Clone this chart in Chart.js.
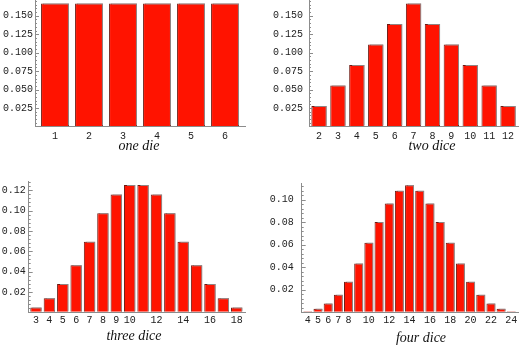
<!DOCTYPE html>
<html>
<head>
<meta charset="utf-8">
<script src="https://cdn.jsdelivr.net/npm/chart.js@4"></script>
<style>
  html, body { margin: 0; padding: 0; background: #fff; }
  #wrap { position: relative; width: 519px; height: 346px; overflow: hidden; }
  canvas { position: absolute; }
  .cap { position: absolute; font: italic 14px 'Liberation Serif', 'DejaVu Serif', serif; line-height: 14px; color: #111; white-space: nowrap; transform: translateX(-50%); }
</style>
</head>
<body>
<div id="wrap">
  <canvas id="c1" width="260" height="173" style="left:0;top:0"></canvas>
  <canvas id="c2" width="259" height="173" style="left:260px;top:0"></canvas>
  <canvas id="c3" width="260" height="173" style="left:0;top:173px"></canvas>
  <canvas id="c4" width="259" height="173" style="left:260px;top:173px"></canvas>
  <div class="cap" style="left:139px;top:139px">one die</div>
  <div class="cap" style="left:432px;top:139px">two dice</div>
  <div class="cap" style="left:134px;top:329px">three dice</div>
  <div class="cap" style="left:421px;top:331px">four dice</div>
</div>
<script>
// Probability of each total when rolling 1-4 fair dice.
const oneFaces = [1, 2, 3, 4, 5, 6];
const oneProb = [0.1667, 0.1667, 0.1667, 0.1667, 0.1667, 0.1667];
const oneTicks = [1, 2, 3, 4, 5, 6];

const twoSums = [2, 3, 4, 5, 6, 7, 8, 9, 10, 11, 12];
const twoProb = [0.0278, 0.0556, 0.0833, 0.1111, 0.1389, 0.1667, 0.1389, 0.1111, 0.0833, 0.0556, 0.0278];
const twoTicks = [2, 3, 4, 5, 6, 7, 8, 9, 10, 11, 12];

const threeSums = [3, 4, 5, 6, 7, 8, 9, 10, 11, 12, 13, 14, 15, 16, 17, 18];
const threeProb = [0.0046, 0.0139, 0.0278, 0.0463, 0.0694, 0.0972, 0.1157, 0.1250,
                   0.1250, 0.1157, 0.0972, 0.0694, 0.0463, 0.0278, 0.0139, 0.0046];
const threeTicks = [3, 4, 5, 6, 7, 8, 9, 10, 12, 14, 16, 18];

const fourSums = [4, 5, 6, 7, 8, 9, 10, 11, 12, 13, 14, 15, 16, 17, 18, 19, 20, 21, 22, 23, 24];
const fourProb = [0.0008, 0.0031, 0.0077, 0.0154, 0.0270, 0.0432, 0.0617, 0.0802, 0.0965, 0.1080, 0.1127,
                  0.1080, 0.0965, 0.0802, 0.0617, 0.0432, 0.0270, 0.0154, 0.0077, 0.0031, 0.0008];
const fourTicks = [4, 5, 6, 7, 8, 10, 12, 14, 16, 18, 20, 22, 24];

const FILL = '#ff1300';
const EDGE = '#6e1a12';
const AXIS = '#8c8c8c';
const MONO = { family: "'Liberation Mono', 'DejaVu Sans Mono', monospace", size: 10 };

// grey drop shadow behind the bars
const shade = {
  id: 'shade',
  beforeDatasetsDraw(chart) {
    const c = chart.ctx;
    c.save();
    c.shadowColor = 'rgba(150,150,150,0.85)';
    c.shadowOffsetX = 2;
    c.shadowOffsetY = -1;
    c.shadowBlur = 0;
  },
  afterDatasetsDraw(chart) { chart.ctx.restore(); }
};

// inward major and minor ticks on the y axis
const yTicks = {
  id: 'yTicks',
  afterDraw(chart, args, opts) {
    const y = chart.scales.y, c = chart.ctx, x0 = chart.chartArea.left;
    const step = opts.step, minor = step / 5;
    c.save();
    c.strokeStyle = AXIS;
    c.lineWidth = 1;
    for (let i = 1; i * minor <= y.max + 1e-9; i++) {
      const py = Math.round(y.getPixelForValue(i * minor)) + 0.5;
      const len = i % 5 === 0 ? 4 : 2;
      c.beginPath();
      c.moveTo(x0, py);
      c.lineTo(x0 + len, py);
      c.stroke();
    }
    c.restore();
  }
};

// no label overhang padding: the plot box is fixed by hand
const noPad = (s) => { s.paddingTop = 0; s.paddingBottom = 0; s.paddingLeft = 0; s.paddingRight = 0; };

function panel(id, xs, ys, tickList, o) {
  const cv = document.getElementById(id);
  const W = cv.width, H = cv.height;
  return new Chart(cv, {
    type: 'bar',
    data: {
      datasets: [{
        data: xs.map((x, i) => ({ x, y: ys[i] })),
        backgroundColor: FILL,
        borderColor: EDGE,
        borderWidth: 1,
        categoryPercentage: 1,
        barPercentage: o.bar
      }]
    },
    plugins: [shade, yTicks],
    options: {
      responsive: false,
      animation: false,
      layout: { padding: { left: 0, top: o.top, right: W - o.right, bottom: 0 } },
      plugins: { legend: { display: false }, tooltip: { enabled: false }, yTicks: { step: o.yStep } },
      scales: {
        x: {
          type: 'linear',
          offset: false,
          min: o.xMin, max: o.xMax,
          afterFit: (s) => { s.height = H - o.bottom; noPad(s); },
          grid: { display: true, drawOnChartArea: false, drawTicks: false, offset: false },
          border: { display: true, color: AXIS, width: 1 },
          ticks: {
            stepSize: 1, includeBounds: false, autoSkip: false, maxRotation: 0,
            padding: o.xPad, color: '#222', font: MONO,
            callback: (v) => tickList.includes(v) ? String(v) : ''
          }
        },
        y: {
          min: 0, max: o.yMax,
          afterFit: (s) => { s.width = o.left; noPad(s); },
          grid: { display: true, drawOnChartArea: false, drawTicks: false },
          border: { display: true, color: AXIS, width: 1 },
          ticks: {
            stepSize: o.yStep, includeBounds: false, padding: o.yPad, color: '#222', font: MONO,
            callback: (v) => v === 0 ? '' : v.toFixed(o.digits)
          }
        }
      }
    }
  });
}

panel('c1', oneFaces, oneProb, oneTicks,
  { left: 35, right: 245, top: 0, bottom: 126.5, xMin: 0.412, xMax: 6.588, yMax: 0.1714, yStep: 0.025, digits: 3, bar: 0.82, xPad: 4, yPad: 2 });
panel('c2', twoSums, twoProb, twoTicks,
  { left: 49, right: 259, top: 0, bottom: 126.5, xMin: 1.47, xMax: 12.58, yMax: 0.1714, yStep: 0.025, digits: 3, bar: 0.81, xPad: 4, yPad: 6 });
panel('c3', threeSums, threeProb, threeTicks,
  { left: 28.7, right: 245, top: 8, bottom: 139.3, xMin: 2.455, xMax: 18.62, yMax: 0.129, yStep: 0.02, digits: 2, bar: 0.85, xPad: 2, yPad: 3 });
panel('c4', fourSums, fourProb, fourTicks,
  { left: 41.7, right: 259, top: 10, bottom: 139.2, xMin: 3.40, xMax: 24.76, yMax: 0.1148, yStep: 0.02, digits: 2, bar: 0.88, xPad: 2, yPad: 8 });
</script>
</body>
</html>
